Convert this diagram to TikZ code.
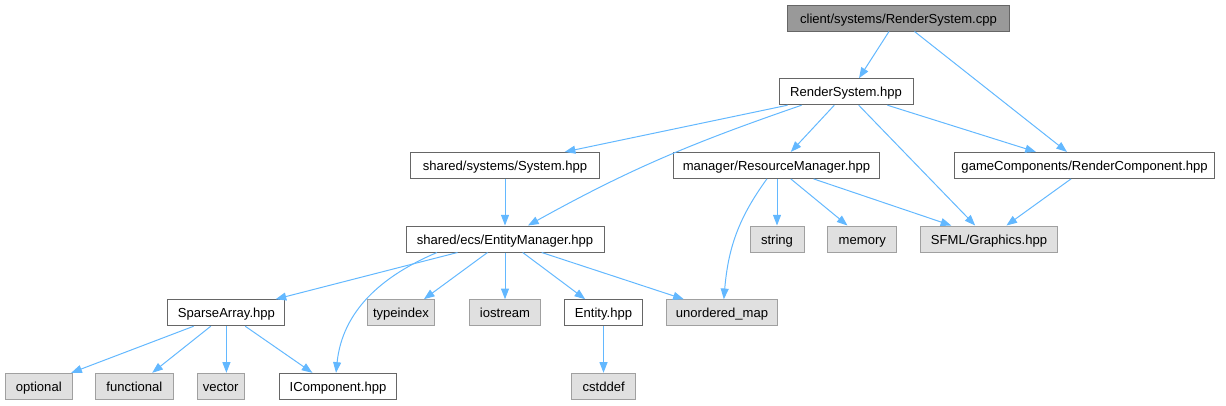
\documentclass[tikz,border=0pt]{standalone}
\usepackage{fontspec}
\setmainfont{Liberation Sans}
\usetikzlibrary{arrows.meta,calc}

\definecolor{edgeblue}{HTML}{63B8FF}
\definecolor{boxline}{HTML}{666666}
\definecolor{extline}{HTML}{A0A0A0}
\definecolor{extfill}{HTML}{E0E0E0}
\definecolor{rootfill}{HTML}{999999}

\begin{document}
\begin{tikzpicture}[x=0.75pt, y=-0.75pt, font=\fontsize{9.8}{12}\selectfont,
    incbox/.style={draw=boxline, fill=white, line width=0.75pt, minimum height=19.5pt,
        inner xsep=2pt, inner ysep=0pt, text height=8.7pt, text depth=1pt},
    sysbox/.style={incbox, draw=extline, fill=extfill},
    rootbox/.style={incbox, fill=rootfill},
    bw/.style={minimum width=#1},
    incl/.style={draw=edgeblue, line width=0.75pt, -{Triangle[length=8pt,width=6pt]}}]
\useasboundingbox (0,0) rectangle (1226,405);

% Files
\node[rootbox, bw=167.2pt] (cpp)   at (898.5,18)  {client/systems/RenderSystem.cpp};
\node[incbox, bw=100.5pt]  (rsh)   at (846,91.7)  {RenderSystem.hpp};
\node[incbox, bw=141.8pt]  (sys)   at (505,165.4) {shared/systems/System.hpp};
\node[incbox, bw=153.8pt]  (resm)  at (776.5,165.4) {manager/ResourceManager.hpp};
\node[incbox, bw=195pt]    (rcomp) at (1084.6,165.4) {gameComponents/RenderComponent.hpp};
\node[incbox, bw=148.5pt]  (em)    at (505,239)   {shared/ecs/EntityManager.hpp};
\node[sysbox, bw=40.5pt]   (str)   at (777,239)   {string};
\node[sysbox, bw=51.8pt]   (mem)   at (862.3,239) {memory};
\node[sysbox, bw=102.8pt]  (sfml)  at (989,239)   {SFML/Graphics.hpp};
\node[incbox, bw=87.8pt]   (spa)   at (226.4,312.7) {SparseArray.hpp};
\node[sysbox, bw=49.9pt]   (tyi)   at (401,312.7) {typeindex};
\node[sysbox, bw=53.2pt]   (ios)   at (505,312.7) {iostream};
\node[incbox, bw=59.2pt]   (ent)   at (603.5,312.7) {Entity.hpp};
\node[sysbox, bw=82.9pt]   (umap)  at (722,312.7) {unordered\_map};
\node[sysbox, bw=49.9pt]   (opt)   at (38.8,386.3) {optional};
\node[sysbox, bw=58.5pt]   (fun)   at (134.4,386.3) {functional};
\node[sysbox, bw=35.2pt]   (vec)   at (220.6,386.3) {vector};
\node[incbox, bw=87.8pt]   (icomp) at (338,386.3) {IComponent.hpp};
\node[sysbox, bw=48.4pt]   (cst)   at (603.7,386.3) {cstddef};

% Includes of RenderSystem.cpp
\draw[incl] ($(cpp.south)+(-9.5,0)$) -- ($(rsh.north)+(13,0)$);
\draw[incl] ($(cpp.south)+(16,0)$) -- ($(rcomp.north)+(-17.6,0)$);

% Includes of RenderSystem.hpp
\draw[incl] ($(rsh.south)+(-58.4,0)$) -- ($(sys.north)+(59.7,0)$);
\draw[incl] ($(rsh.south)+(-44.4,0)$) to[out=199, in=29] ($(em.north)+(23,0)$);
\draw[incl] ($(rsh.south)+(-11.7,0)$) -- ($(resm.north)+(14.3,0)$);
\draw[incl] ($(rsh.south)+(12.7,0)$) -- ($(sfml.north)+(-13.8,0)$);
\draw[incl] ($(rsh.south)+(41.4,0)$) -- ($(rcomp.north)+(-48.7,0)$);

% Includes of System.hpp, ResourceManager.hpp, RenderComponent.hpp
\draw[incl] (sys.south) -- (em.north);
\draw[incl] ($(resm.south)+(-9.6,0)$) to[out=234, in=85] ($(umap.north)+(1.8,0)$);
\draw[incl] (resm.south -| str.north) -- (str.north);
\draw[incl] ($(resm.south)+(14.3,0)$) -- ($(mem.north)+(-14.8,0)$);
\draw[incl] ($(resm.south)+(37.1,0)$) -- ($(sfml.north)+(-37.7,0)$);
\draw[incl] ($(rcomp.south)+(-13.6,0)$) -- ($(sfml.north)+(17.4,0)$);

% Includes of EntityManager.hpp
\draw[incl] ($(em.south)+(-47.5,0)$) -- ($(spa.north)+(49.2,0)$);
\draw[incl] ($(em.south)+(-68,0)$) to[out=203, in=84] ($(icomp.north)+(-2,0)$);
\draw[incl] ($(em.south)+(-17.5,0)$) -- ($(tyi.north)+(22.9,0)$);
\draw[incl] (em.south) -- (ios.north);
\draw[incl] ($(em.south)+(17.7,0)$) -- ($(ent.north)+(-18.3,0)$);
\draw[incl] ($(em.south)+(36.7,0)$) -- ($(umap.north)+(-38.2,0)$);

% Includes of SparseArray.hpp and Entity.hpp
\draw[incl] ($(spa.south)+(-32.7,0)$) -- ($(opt.north)+(32.4,0)$);
\draw[incl] ($(spa.south)+(-15.6,0)$) -- ($(fun.north)+(17.8,0)$);
\draw[incl] (spa.south) -- (spa.south |- vec.north);
\draw[incl] ($(spa.south)+(18.8,0)$) -- ($(icomp.north)+(-25.6,0)$);
\draw[incl] (ent.south) -- (ent.south |- cst.north);
\end{tikzpicture}
\end{document}
